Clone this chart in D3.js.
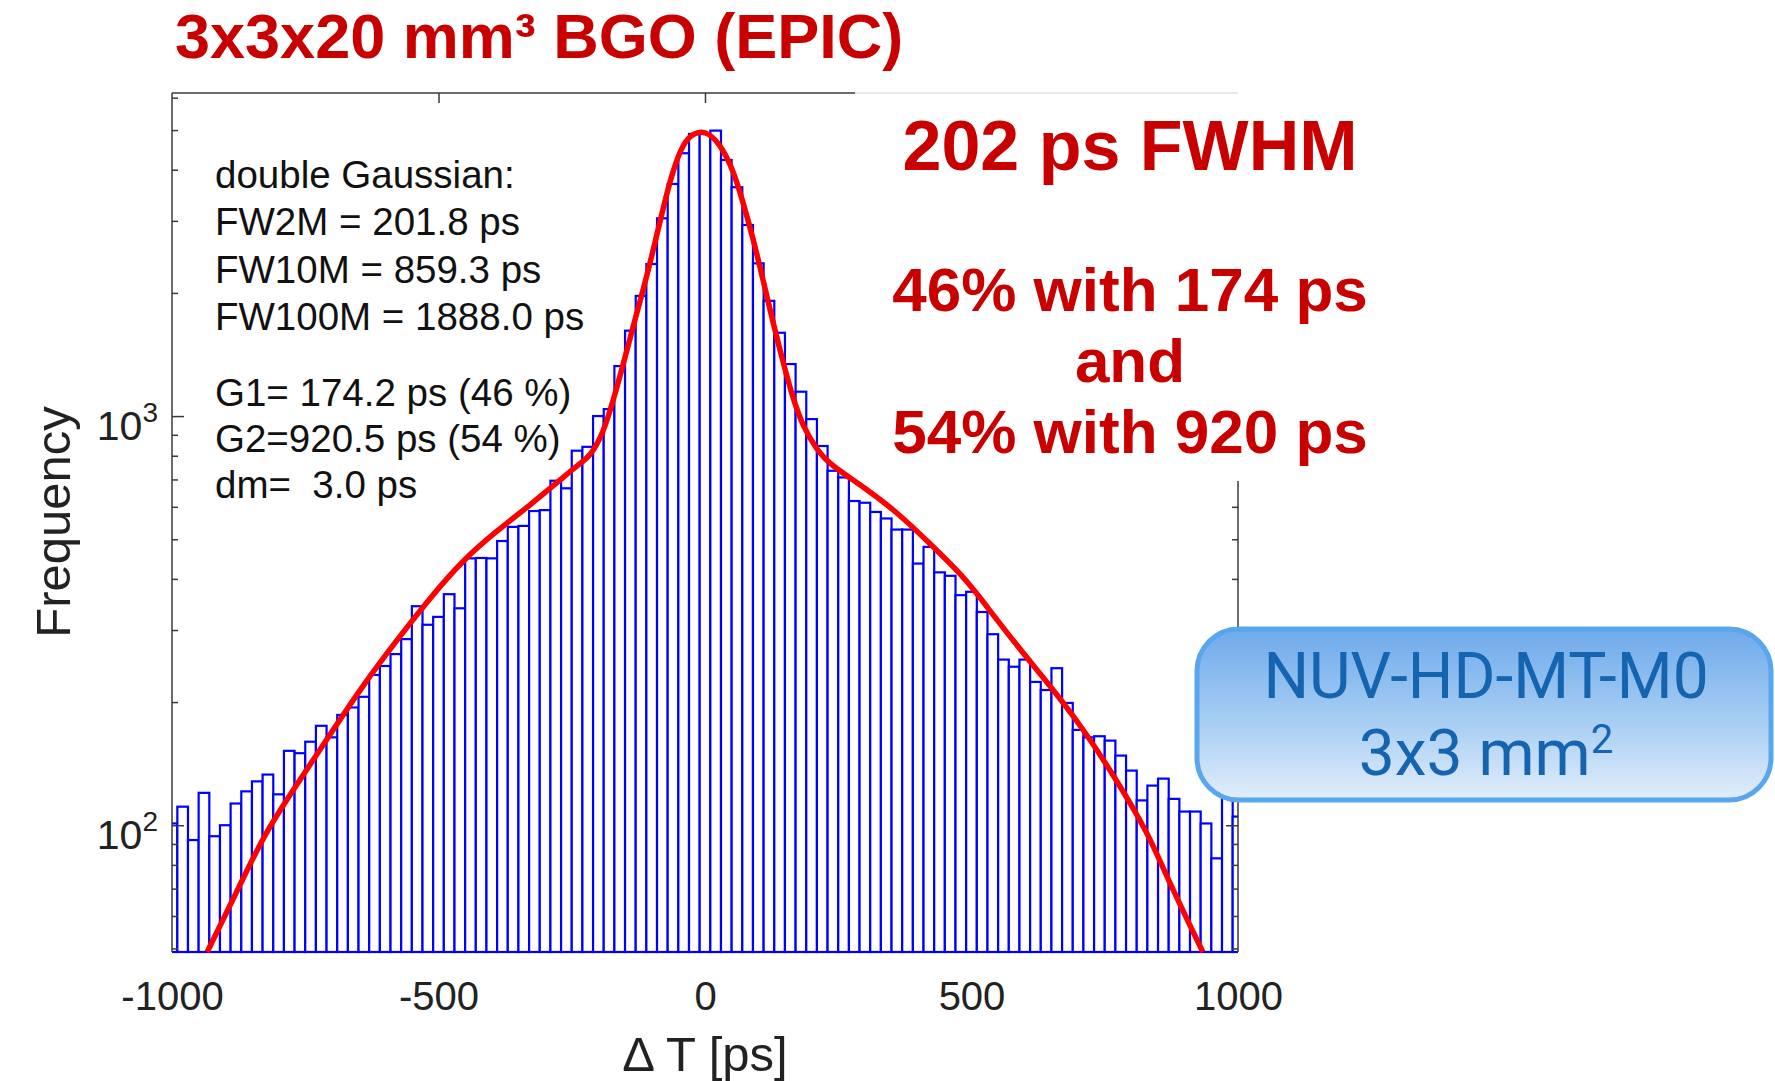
<!DOCTYPE html>
<html>
<head>
<meta charset="utf-8">
<script src="https://cdn.jsdelivr.net/npm/d3@7"></script>
<style>
  html, body { margin: 0; padding: 0; background: #fff; }
  svg { display: block; }
  text { font-family: "Liberation Sans", Arial, Helvetica, sans-serif; }
</style>
</head>
<body>
<div id="chart"></div>
<script>
// Delta T histogram: 20 ps bins centred on -1000, -980, ... , 1000
const binStart = -1000;
const binWidth = 20;
const counts = [
  101, 111, 92, 120, 94, 100, 113, 121, 128, 133,
  119, 152, 150, 160, 175, 164, 186, 194, 206, 233,
  245, 262, 285, 343, 309, 323, 367, 339, 449, 450,
  449, 495, 536, 539, 586, 589, 695, 666, 823, 841,
  1000, 1040, 1325, 1617, 1966, 2353, 3043, 3692, 4389, 4893,
  4893, 4985, 4226, 3625, 2931, 2362, 1913, 1598, 1340, 1147,
  983, 845, 735, 708, 620, 614, 583, 562, 528, 528,
  436, 479, 415, 407, 365, 372, 332, 293, 254, 244,
  254, 224, 214, 242, 199, 171, 164, 165, 161, 148,
  136, 115, 125, 130, 116, 108, 108, 101, 83, 120,
  105
];

// double Gaussian fit curve
const fitT = [-934, -868, -826, -769, -707, -644, -575, -514, -454, -391, -328, -266,
  -235, -216, -191, -172, -153, -135, -116, -97, -78, -60, -41, -22, 0,
  28, 53, 72, 91, 109, 128, 147, 166, 184, 210, 235, 297, 360, 422, 485,
  516, 582, 644, 707, 769, 832, 869, 934];
const fitN = [49, 73.4, 95.4, 124, 164, 218, 287, 362, 445, 524, 606, 708,
  766, 795, 907, 1094, 1345, 1653, 2032, 2546, 3249, 3995, 4644, 4912, 4990,
  4644, 3995, 3311, 2694, 2150, 1686, 1345, 1094, 942, 826, 760, 672, 583, 488, 405,
  360, 278, 222, 174, 131, 95.4, 73.4, 49];

const xTicks = [-1000, -500, 0, 500, 1000];
const topTicks = [-500, 0];
const yMajor = [100, 1000];
const yMinor = [50, 60, 70, 80, 90, 200, 300, 400, 500, 600, 700, 800, 900,
  2000, 3000, 4000, 5000, 6000];

const fitLines = ["double Gaussian:", "FW2M = 201.8 ps", "FW10M = 859.3 ps", "FW100M = 1888.0 ps"];
const gaussLines = ["G1= 174.2 ps (46 %)", "G2=920.5 ps (54 %)", "dm=  3.0 ps"];
const resultLines = ["46% with 174 ps", "and", "54% with 920 ps"];

const width = 1775, height = 1081;
const plot = { left: 172, right: 1238, top: 93, bottom: 952 };
const red = "#c80000";

const svg = d3.select("#chart").append("svg")
  .attr("width", width)
  .attr("height", height);

const x = d3.scaleLinear().domain([-1000, 1000]).range([plot.left, plot.right]);
const y = d3.scaleLog().domain([49, 6160]).range([plot.bottom, plot.top]);

svg.append("clipPath").attr("id", "clip")
  .append("rect")
  .attr("x", plot.left).attr("y", plot.top)
  .attr("width", plot.right - plot.left)
  .attr("height", plot.bottom - plot.top + 3);

// bars
const bins = counts.map((n, i) => ({ t: binStart + i * binWidth, n: n }));

svg.append("g")
  .attr("clip-path", "url(#clip)")
  .selectAll("rect")
  .data(bins)
  .enter().append("rect")
  .attr("x", d => x(d.t - binWidth / 2))
  .attr("width", d => x(d.t + binWidth / 2) - x(d.t - binWidth / 2))
  .attr("y", d => y(d.n))
  .attr("height", d => plot.bottom - y(d.n))
  .attr("fill", "#fff")
  .attr("stroke", "#0000ff")
  .attr("stroke-width", 2.2);

// fit
const line = d3.line()
  .x(d => x(d[0]))
  .y(d => y(d[1]))
  .curve(d3.curveBasis);

svg.append("path")
  .attr("clip-path", "url(#clip)")
  .datum(fitT.map((t, i) => [t, fitN[i]]))
  .attr("d", line)
  .attr("fill", "none")
  .attr("stroke", "#ff0000")
  .attr("stroke-width", 5.5)
  .attr("stroke-linejoin", "round");

// axes
const axisColor = "#3a3a3a";

svg.append("g")
  .attr("transform", `translate(${plot.left},0)`)
  .call(d3.axisLeft(y).tickValues(yMinor).tickSize(-6).tickFormat(""))
  .call(g => g.select(".domain").remove())
  .call(g => g.selectAll("line").attr("stroke", axisColor).attr("stroke-width", 1.5));

svg.append("g")
  .attr("transform", `translate(${plot.left},0)`)
  .call(d3.axisLeft(y).tickValues(yMajor).tickSize(-12).tickFormat(""))
  .call(g => g.select(".domain").remove())
  .call(g => g.selectAll("line").attr("stroke", axisColor).attr("stroke-width", 1.5));

// right axis only shows below the annotation box
const rightTop = 481;
svg.append("g")
  .attr("transform", `translate(${plot.right},0)`)
  .call(d3.axisRight(y).tickValues(yMinor.filter(v => y(v) > rightTop)).tickSize(-6).tickFormat(""))
  .call(g => g.select(".domain").remove())
  .call(g => g.selectAll("line").attr("stroke", axisColor).attr("stroke-width", 1.5));

svg.append("g")
  .attr("transform", `translate(${plot.right},0)`)
  .call(d3.axisRight(y).tickValues(yMajor.filter(v => y(v) > rightTop)).tickSize(-12).tickFormat(""))
  .call(g => g.select(".domain").remove())
  .call(g => g.selectAll("line").attr("stroke", axisColor).attr("stroke-width", 1.5));

svg.append("g")
  .attr("transform", `translate(0,${plot.top})`)
  .call(d3.axisTop(x).tickValues(topTicks).tickSize(-10).tickFormat(""))
  .call(g => g.select(".domain").remove())
  .call(g => g.selectAll("line").attr("stroke", axisColor).attr("stroke-width", 1.5));

const frame = svg.append("g").attr("fill", "none").attr("stroke-width", 1.5);
frame.append("line")
  .attr("x1", plot.left).attr("x2", plot.left)
  .attr("y1", plot.top).attr("y2", plot.bottom)
  .attr("stroke", axisColor);
frame.append("line")
  .attr("x1", plot.left).attr("x2", 855)
  .attr("y1", plot.top).attr("y2", plot.top)
  .attr("stroke", axisColor);
frame.append("line")
  .attr("x1", 855).attr("x2", plot.right)
  .attr("y1", plot.top).attr("y2", plot.top)
  .attr("stroke", "#e2e2e2");
frame.append("line")
  .attr("x1", plot.right).attr("x2", plot.right)
  .attr("y1", rightTop).attr("y2", plot.bottom)
  .attr("stroke", axisColor);

// x tick labels
svg.append("g")
  .attr("transform", `translate(0,${plot.bottom})`)
  .call(d3.axisBottom(x).tickValues(xTicks).tickSize(0).tickPadding(30).tickFormat(d => String(d)))
  .call(g => g.select(".domain").remove())
  .call(g => g.selectAll("text")
    .attr("fill", "#222")
    .style("font-size", "40px")
    .style("font-family", "'Liberation Sans', Arial, sans-serif"));

// y tick labels 10^2, 10^3
const yLab = svg.append("g").selectAll("text")
  .data(yMajor)
  .enter().append("text")
  .attr("x", 158)
  .attr("y", d => y(d) + 24)
  .attr("text-anchor", "end")
  .attr("fill", "#222");
yLab.append("tspan").style("font-size", "41px").text("10");
yLab.append("tspan").style("font-size", "28px").attr("dy", -18)
  .text(d => String(Math.round(Math.log10(d))));

// axis titles
svg.append("text")
  .attr("transform", "translate(70,522) rotate(-90)")
  .attr("text-anchor", "middle")
  .style("font-size", "49px")
  .attr("fill", "#222")
  .text("Frequency");

svg.append("text")
  .attr("x", x(0))
  .attr("y", 1071)
  .attr("text-anchor", "middle")
  .style("font-size", "49px")
  .attr("fill", "#222")
  .text("\u0394 T [ps]");

// fit parameters
svg.append("g").selectAll("text")
  .data(fitLines.concat(gaussLines))
  .enter().append("text")
  .attr("x", 215)
  .attr("y", (d, i) => [188, 235, 283, 330, 406, 452, 498][i])
  .style("font-size", "38.5px")
  .style("white-space", "pre")
  .attr("fill", "#111")
  .text(d => d);

// title
svg.append("text")
  .attr("x", 175)
  .attr("y", 58)
  .style("font-size", "63px")
  .style("font-weight", "bold")
  .attr("fill", red)
  .text("3x3x20 mm\u00b3 BGO (EPIC)");

svg.append("text")
  .attr("x", 1130)
  .attr("y", 170)
  .attr("text-anchor", "middle")
  .style("font-size", "70px")
  .style("font-weight", "bold")
  .attr("fill", red)
  .text("202 ps FWHM");

svg.append("g").selectAll("text")
  .data(resultLines)
  .enter().append("text")
  .attr("x", 1130)
  .attr("y", (d, i) => 311 + i * 71)
  .attr("text-anchor", "middle")
  .style("font-size", "62px")
  .style("font-weight", "bold")
  .attr("fill", red)
  .text(d => d);

// sensor label box
const grad = svg.append("defs").append("linearGradient")
  .attr("id", "boxFill")
  .attr("x1", 0).attr("y1", 0).attr("x2", 0).attr("y2", 1);
grad.append("stop").attr("offset", "0%").attr("stop-color", "#6eaaea");
grad.append("stop").attr("offset", "55%").attr("stop-color", "#a9cef3");
grad.append("stop").attr("offset", "100%").attr("stop-color", "#e2eefb");

svg.append("rect")
  .attr("x", 1197).attr("y", 629)
  .attr("width", 574).attr("height", 171)
  .attr("rx", 42).attr("ry", 42)
  .attr("fill", "url(#boxFill)")
  .attr("stroke", "#58a6ee")
  .attr("stroke-width", 5);

svg.append("text")
  .attr("x", 1486).attr("y", 698)
  .attr("text-anchor", "middle")
  .style("font-family", "Roboto, 'Open Sans', sans-serif")
  .style("font-size", "64px")
  .attr("fill", "#1464b0")
  .text("NUV-HD-MT-M0");

const sensor = svg.append("text")
  .attr("x", 1486).attr("y", 775)
  .attr("text-anchor", "middle")
  .style("font-family", "Roboto, 'Open Sans', sans-serif")
  .style("font-size", "64px")
  .attr("fill", "#1464b0");
sensor.append("tspan").text("3x3 mm");
sensor.append("tspan").attr("dy", -22).style("font-size", "40px").text("2");
</script>
</body>
</html>
